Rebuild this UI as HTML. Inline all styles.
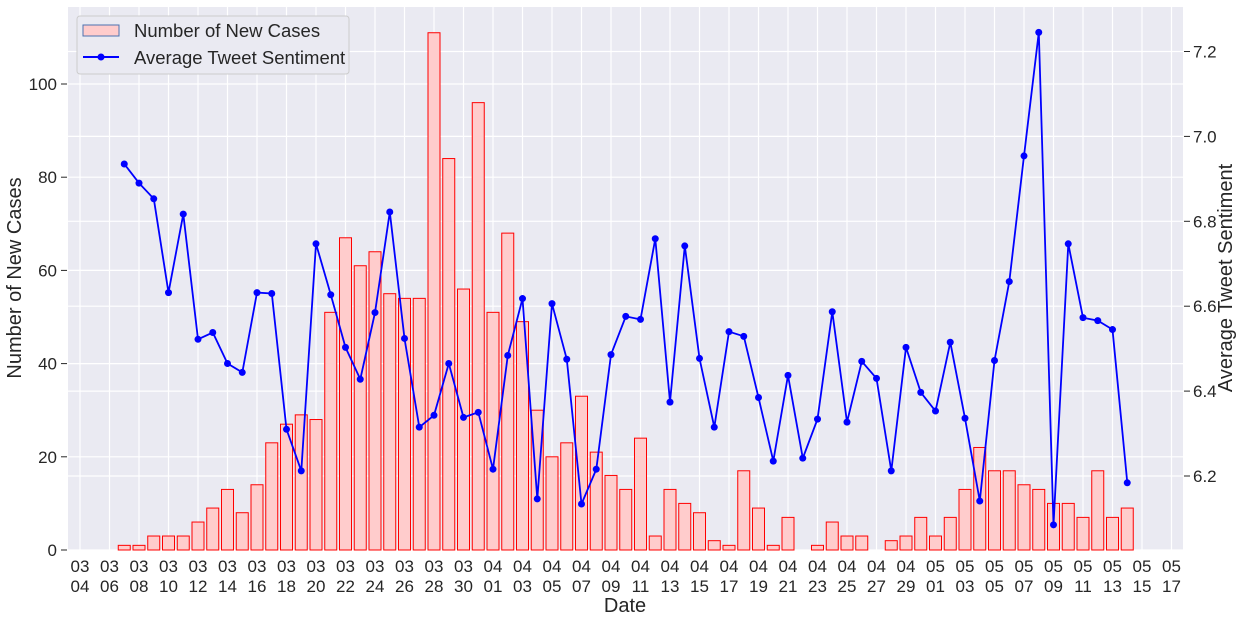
<!DOCTYPE html>
<html><head><meta charset="utf-8"><style>
html,body{margin:0;padding:0;background:#fff;}
svg{display:block;font-family:"Liberation Sans",Arial,sans-serif;}
</style></head><body>
<svg id="chart" width="1242" height="621" viewBox="0 0 1242 621" xmlns="http://www.w3.org/2000/svg">
<rect x="68" y="7" width="1115" height="543" fill="#EAEAF2"/>
<g id="grid"></g>
<g id="bars"></g>
<g id="line"></g>
<g id="axes"></g>
<text x="625" y="612" font-size="20" fill="#262626" text-anchor="middle">Date</text>
<text transform="translate(21,278) rotate(-90)" font-size="20" fill="#262626" text-anchor="middle">Number of New Cases</text>
<text transform="translate(1232,278) rotate(-90)" font-size="20" fill="#262626" text-anchor="middle">Average Tweet Sentiment</text>
<g>
<rect x="77" y="16" width="272" height="58" rx="3" fill="#EAEAF2" stroke="#cccccc" stroke-width="1"/>
<rect x="83" y="25" width="36" height="11" fill="#FFCCCC" stroke="#4C72B0" stroke-width="1"/>
<text x="134" y="37" font-size="18.5" fill="#262626">Number of New Cases</text>
<line x1="83" y1="57" x2="119" y2="57" stroke="#0000FF" stroke-width="2"/>
<circle cx="101" cy="57" r="3.5" fill="#0000FF"/>
<text x="134" y="64" font-size="18.5" fill="#262626">Average Tweet Sentiment</text>
</g>
</svg>
<script>
const xTickLabels = [["03","04"],["03","06"],["03","08"],["03","10"],["03","12"],["03","14"],["03","16"],["03","18"],["03","20"],["03","22"],["03","24"],["03","26"],["03","28"],["03","30"],["04","01"],["04","03"],["04","05"],["04","07"],["04","09"],["04","11"],["04","13"],["04","15"],["04","17"],["04","19"],["04","21"],["04","23"],["04","25"],["04","27"],["04","29"],["05","01"],["05","03"],["05","05"],["05","07"],["05","09"],["05","11"],["05","13"],["05","15"],["05","17"]];
const leftTicks = [0,20,40,60,80,100];
const rightTicks = [6.2,6.4,6.6,6.8,7.0,7.2];
const firstDay = 3; // 03-07 is day 3 after 03-04
const newCases = [1,1,3,3,3,6,9,13,8,14,23,27,29,28,51,67,61,64,55,54,54,111,84,56,96,51,68,49,30,20,23,33,21,16,13,24,3,13,10,8,2,1,17,9,1,7,0,1,6,3,3,0,2,3,7,3,7,13,22,17,17,14,13,10,10,7,17,7,9];
const sentiment = [6.935,6.89,6.853,6.632,6.817,6.522,6.538,6.465,6.444,6.632,6.63,6.31,6.212,6.747,6.627,6.503,6.428,6.585,6.822,6.524,6.315,6.343,6.465,6.338,6.35,6.216,6.484,6.618,6.146,6.606,6.475,6.134,6.216,6.486,6.576,6.569,6.759,6.374,6.742,6.477,6.315,6.54,6.529,6.385,6.235,6.437,6.242,6.334,6.587,6.327,6.47,6.43,6.212,6.503,6.397,6.353,6.515,6.336,6.141,6.472,6.658,6.954,7.245,6.085,6.747,6.573,6.566,6.545,6.184];

const NS='http://www.w3.org/2000/svg';
const X = d => 80 + d*14.75;
const YL = v => 550 - v*4.66;
const YR = v => 476 - (v-6.2)*424.5;
function mk(tag, attrs, parent){const e=document.createElementNS(NS,tag);for(const k in attrs)e.setAttribute(k,attrs[k]);parent.appendChild(e);return e;}
const grid=document.getElementById('grid'), bars=document.getElementById('bars'), line=document.getElementById('line'), axes=document.getElementById('axes');

xTickLabels.forEach((lab,i)=>{
  const x=X(i*2);
  const g=mk('line',{x1:x,x2:x,y1:7,y2:550,stroke:'#fff','stroke-width':1.2},grid);
  
  
  const t=mk('text',{x:x,y:572,'font-size':17,fill:'#262626','text-anchor':'middle'},axes);
  
  
  const s1=mk('tspan',{x:x,y:572},t); s1.textContent=lab[0];
  const s2=mk('tspan',{x:x,y:592},t); s2.textContent=lab[1];
});
leftTicks.forEach(v=>{
  const y=YL(v);
  const g=mk('line',{x1:68,x2:1183,y1:y,y2:y,stroke:'#fff','stroke-width':1.2},grid);
  
  
  const tk=mk('line',{x1:61,x2:67,y1:y,y2:y,stroke:'#262626','stroke-width':1},axes);
  
  
  const t=mk('text',{x:57,y:y+6,'font-size':17,fill:'#262626','text-anchor':'end'},axes);
  
  
  t.textContent=v;
});
rightTicks.forEach(v=>{
  const y=YR(v);
  const g=mk('line',{x1:68,x2:1183,y1:y,y2:y,stroke:'#fff','stroke-width':1.2},grid);
  
  
  const tk=mk('line',{x1:1184,x2:1190,y1:y,y2:y,stroke:'#262626','stroke-width':1},axes);
  
  
  const t=mk('text',{x:1193,y:y+6,'font-size':17,fill:'#262626'},axes);
  
  
  t.textContent=v.toFixed(1);
});
newCases.forEach((v,i)=>{
  if(v<=0) return;
  const x=X(firstDay+i);
  const r=mk('rect',{x:x-6,y:YL(v),width:12,height:550-YL(v),fill:'#FFCCCC',stroke:'#FF0000','stroke-width':1},bars);
  
  
});
const pts=sentiment.map((v,i)=>X(firstDay+i).toFixed(1)+','+YR(v).toFixed(1)).join(' ');
const pl=mk('polyline',{points:pts,fill:'none',stroke:'#0000FF','stroke-width':1.8},line);


sentiment.forEach((v,i)=>{
  const c=mk('circle',{cx:X(firstDay+i),cy:YR(v),r:3.5,fill:'#0000FF'},line);
  
  
});
</script>
</body></html>
